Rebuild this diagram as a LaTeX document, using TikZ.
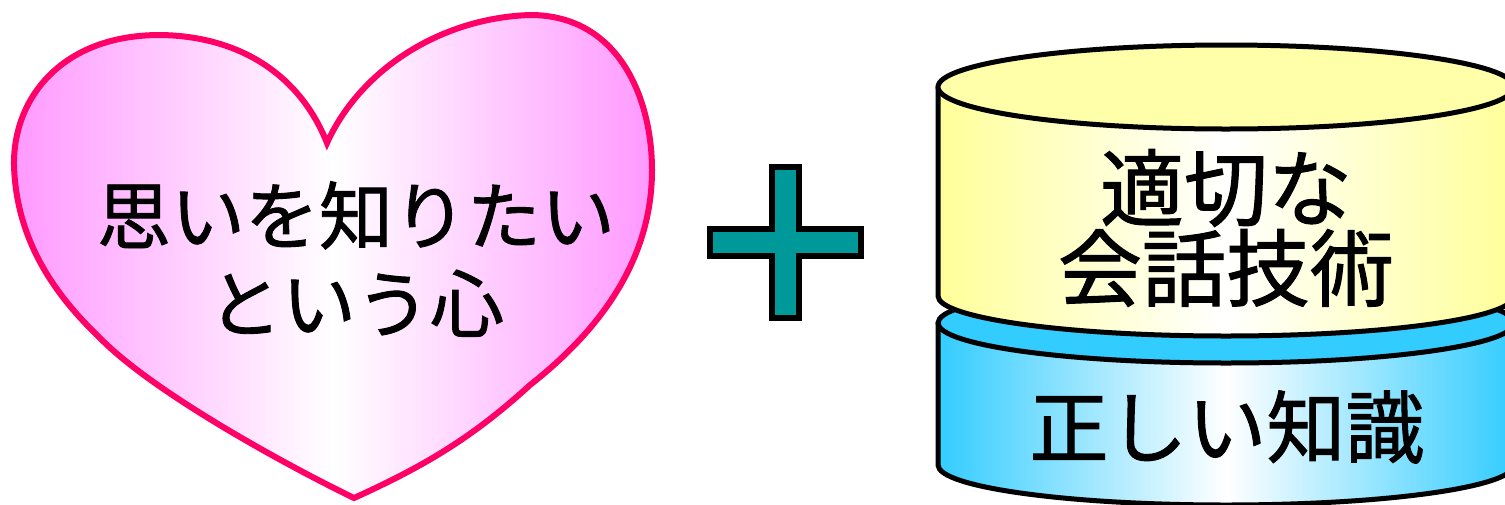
\documentclass[tikz,border=0pt]{standalone}
\usepackage{fontspec}
\newfontfamily\cjk{Noto Sans CJK JP}[FakeBold=1.2]
\definecolor{heartpink}{RGB}{255,153,255}
\definecolor{heartline}{RGB}{255,0,102}
\definecolor{plusteal}{RGB}{0,153,153}
\definecolor{ylw}{RGB}{255,255,153}
\definecolor{ylwtop}{RGB}{255,255,170}
\definecolor{cyn}{RGB}{51,204,255}
\tikzset{
  outline/.style={draw=black, line width=5pt, line join=round},
  label/.style={font=\cjk, align=center, inner sep=0pt},
}
\begin{document}
\begin{tikzpicture}[x=1pt,y=1pt]
\useasboundingbox (0,0) rectangle (1505,-504);
\clip (0,0) rectangle (1505,-504);
% heart
\path[left color=heartpink, right color=heartpink, middle color=white,
      draw=heartline, line width=6pt, line join=miter]
  (327,-143) .. controls (300,-75) and (240,-36) .. (160,-35)
  .. controls (60,-35) and (13,-100) .. (14,-165)
  .. controls (16,-240) and (55,-295) .. (99,-337)
  .. controls (150,-390) and (280,-462) .. (354,-498)
  .. controls (420,-468) and (470,-440) .. (530,-385)
  .. controls (600,-330) and (652,-260) .. (652,-170)
  .. controls (652,-100) and (620,-15) .. (530,-15)
  .. controls (440,-18) and (360,-70) .. (327,-143) -- cycle;
\node[label, font=\cjk\fontsize{74}{88}\selectfont] (heart) at (356,-259) {思いを知りたい\\という心};
% plus
\path[fill=plusteal, draw=black, line width=6pt, line join=miter] (772,-167) -- (799,-167) -- (799,-229) -- (861,-229) -- (861,-256) -- (799,-256) -- (799,-318) -- (772,-318) -- (772,-256) -- (710,-256) -- (710,-229) -- (772,-229) -- cycle;
% blue cylinder
\path[outline, left color=cyn, right color=cyn, middle color=white]
  (938,-323) -- (938,-465) arc[start angle=180, end angle=360, x radius=288, y radius=40] -- (1514,-323) -- cycle;
\path[outline, fill=cyn] (1226,-323) ellipse [x radius=288, y radius=40];
% yellow cylinder
\path[outline, left color=ylw, right color=ylw, middle color=white]
  (938,-87) -- (938,-296) arc[start angle=180, end angle=360, x radius=288, y radius=40] -- (1514,-87) -- cycle;
\path[outline, fill=ylwtop] (1226,-87) ellipse [x radius=288, y radius=42];
\node[label, font=\cjk\fontsize{84}{80}\selectfont] (skill) at (1226,-228) {適切な\\会話技術};
\node[label, font=\cjk\fontsize{79}{80}\selectfont] (know) at (1227,-427) {正しい知識};
\end{tikzpicture}
\end{document}
